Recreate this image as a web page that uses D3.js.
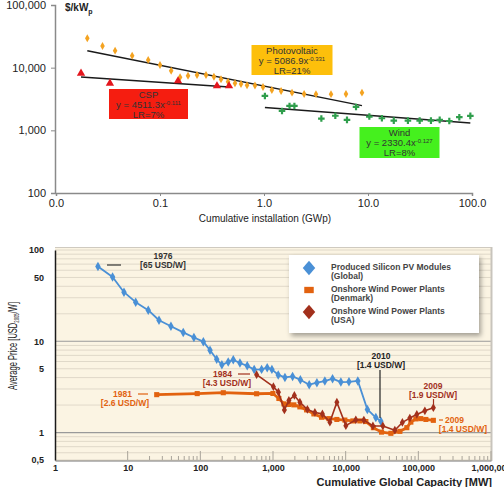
<!DOCTYPE html>
<html>
<head>
<meta charset="utf-8">
<script src="https://cdn.jsdelivr.net/npm/d3@7"></script>
<style>
body{margin:0;background:#fff}
svg{display:block;font-family:"Liberation Sans",Arial,sans-serif}
</style>
</head>
<body>
<svg id="chart" width="504" height="487"></svg>
<script>
// ---- top chart: cost vs cumulative installation (GWp, $/kWp)
var pvGW   = [0.020,0.028,0.037,0.054,0.077,0.100,0.128,0.156,0.186,0.227,0.277,0.330,0.386,0.451,0.526,0.601,0.687,0.819,0.978,1.19,1.46,1.86,2.43,3.16,4.41,6.14,8.75];
var pvCost = [29400,22200,18700,15500,13300,11000,8950,7030,7450,7650,7650,7180,6530,5980,5640,5500,5240,5200,4920,4410,4250,3990,3810,3780,3780,3810,3990];
var cspGW   = [0.0174,0.033,0.149,0.353,0.461];
var cspCost = [8140,5640,6140,5110,5110];
var windGW   = [1.02,1.49,1.76,1.96,3.56,4.85,6.28,7.67,10.3,13.6,17.7,24.2,31.4,40.3,48.9,60.5,75.5,96.4];
var windCost = [3540,2040,2450,2450,1540,1710,1470,2360,1660,1560,1430,1430,1430,1430,1470,1410,1620,1700];
// fitted trend lines, end points
var pvFit   = [[0.020,18600],[8.75,2480]];
var cspFit  = [[0.0174,7070],[0.461,4920]];
var windFit = [[1.02,2320],[96.4,1305]];
var topXTicks = [0.01,0.1,1,10,100];
var topXLabels = ["0.0","0.1","1.0","10.0","100.0"];
var topYTicks = [100,1000,10000,100000];
var topYLabels = ["100","1,000","10,000","100,000"];

// ---- bottom chart: average price vs cumulative global capacity (MW, USD2005/W)
var pvMW    = [3.9,6.2,8.9,12.9,19.2,27,39.4,58.2,81.6,110,136,168,198,242,284,351,442,551,697,832,966,1180,1460,1860,2380,3150,4020,5170,6600,8590,11100,14700,19900,26000,30500];
var pvPrice = [66,50.5,34.5,26.8,21.9,17.0,14.6,12.5,11.0,9.9,7.96,6.34,5.52,5.93,6.26,5.78,5.38,4.89,4.92,5.14,4.92,4.28,4.02,4.12,3.79,3.34,3.52,3.66,3.89,3.57,3.59,3.68,1.79,1.46,1.33];
var dkMW    = [25.1,90.6,207,595,997,1205,1413,1655,1938,2344,2898,3653,4659,5871,7566,9750,12560,15680,18960,24050,31180,41880,55700,69500,78900,92400,108000,127000,161000];
var dkPrice = [2.60,2.67,2.73,2.66,2.68,2.36,2.06,2.03,2.01,1.91,1.77,1.60,1.47,1.42,1.39,1.37,1.34,1.34,1.32,1.13,1.01,0.98,1.03,1.13,1.30,1.41,1.42,1.39,1.36];
var usMW    = [595,1013,1187,1435,1655,1969,2344,2972,3769,4783,6066,7566,10060,13800,17800,23700,32500,47500,60300,76400,95300,123000,161000];
var usPrice = [4.3,3.18,2.77,1.77,2.25,2.55,2.15,1.79,1.66,1.60,1.30,2.15,1.19,1.38,1.37,1.18,1.18,1.06,1.29,1.44,1.58,1.73,1.87];
var botXTicks = [1,10,100,1000,10000,100000,1000000];
var botXLabels = ["1","10","100","1,000","10,000","100,000","1,000,000"];
var botYTicks = [0.5,1,5,10,50,100];
var botYLabels = ["0,5","1","5","10","50","100"];
var legendNames = [["Produced Silicon PV Modules","(Global)"],["Onshore Wind Power Plants","(Denmark)"],["Onshore Wind Power Plants","(USA)"]];

var svg = d3.select("#chart");
var zip = function(a, b){ return a.map(function(v, i){ return [v, b[i]]; }); };

// ================= top chart =================
var x1 = d3.scaleLog().domain([0.01,100]).range([56,472]),
	y1 = d3.scaleLog().domain([100,100000]).range([193,5]);
var topG = svg.append("g");

var ax1 = topG.append("g").attr("transform","translate(0,193)")
	.call(d3.axisBottom(x1).tickValues(topXTicks).tickSize(3).tickFormat(function(d,i){ return topXLabels[i]; }));
var ay1 = topG.append("g").attr("transform","translate(55,0)")
	.call(d3.axisLeft(y1).tickValues(topYTicks).tickSize(4).tickFormat(function(d,i){ return topYLabels[i]; }));
[ax1, ay1].forEach(function(a){
	a.select(".domain").attr("stroke","#8a8a8a").attr("stroke-width",1.5);
	a.selectAll(".tick line").attr("stroke","#8a8a8a");
	a.selectAll("text").attr("fill","#222").style("font-size","11px").style("font-family","'Liberation Sans',Arial,sans-serif");
});
ax1.selectAll("text").attr("y",6).attr("dy","0.71em");
ay1.selectAll("text").attr("dx","-2");

topG.append("text").attr("x",65).attr("y",11).attr("fill","#222")
	.style("font-size","10px").style("font-weight","bold")
	.text("$/kW").append("tspan").attr("dy",3).style("font-size","7px").text("p");
topG.append("text").attr("x",265).attr("y",222).attr("text-anchor","middle").attr("fill","#222")
	.style("font-size","10px").text("Cumulative installation (GWp)");

var fitLine = d3.line().x(function(d){ return x1(d[0]); }).y(function(d){ return y1(d[1]); });
[pvFit, cspFit, windFit].forEach(function(f){
	topG.append("path").attr("d", fitLine(f)).attr("fill","none").attr("stroke","#1a1a1a").attr("stroke-width",1.5);
});

function topPoints(xs, ys, type, size, col){
	topG.append("g").selectAll("path").data(zip(xs, ys)).join("path")
		.attr("transform", function(d){ return "translate(" + x1(d[0]) + "," + y1(d[1]) + ")"; })
		.attr("d", d3.symbol().type(type).size(size))
		.attr("fill", col);
}
topPoints(pvGW, pvCost, d3.symbolDiamond, 18, "#f4a321");
topPoints(windGW, windCost, d3.symbolCross, 24, "#2f9e4c");
topPoints(cspGW, cspCost, d3.symbolTriangle, 30, "#e3161d");

function fitBox(cx, y0, w, h, col, name, eq, ex, lr){
	topG.append("rect").attr("x", cx - w/2).attr("y", y0).attr("width", w).attr("height", h).attr("fill", col);
	topG.append("text").attr("x", cx).attr("y", y0 + 9).attr("text-anchor","middle").attr("fill","#333").style("font-size","9.5px").text(name);
	var e = topG.append("text").attr("x", cx).attr("y", y0 + 19).attr("text-anchor","middle").attr("fill","#333").style("font-size","9.5px");
	e.append("tspan").text(eq);
	e.append("tspan").attr("dy",-3).style("font-size","6px").text(ex);
	topG.append("text").attr("x", cx).attr("y", y0 + 29).attr("text-anchor","middle").attr("fill","#333").style("font-size","9.5px").text(lr);
}
fitBox(292, 45, 81, 30, "#fdbf0b", "Photovoltaic", "y = 5086.9x", "-0.331", "LR=21%");
fitBox(148.5, 89, 79, 30, "#f51d10", "CSP", "y = 4511.3x", "-0.111", "LR=7%");
fitBox(399.5, 127, 80, 31, "#45f01e", "Wind", "y = 2330.4x", "-0.127", "LR=8%");

// ================= bottom chart =================
var x2 = d3.scaleLog().domain([1,1000000]).range([55,491]),
	y2 = d3.scaleLog().domain([0.5,100]).range([460,250]);
var bot = svg.append("g").style("font-family","'Liberation Sans',Arial,sans-serif");

var defs = svg.append("defs");
defs.append("filter").attr("id","shadow").attr("x","-10%").attr("y","-10%").attr("width","130%").attr("height","140%")
	.append("feDropShadow").attr("dx",2).attr("dy",3).attr("stdDeviation",2.5).attr("flood-color","#000").attr("flood-opacity",0.35);

bot.append("rect").attr("x",55).attr("y",247).attr("width",436).attr("height",214).attr("fill","#fbf4e3");
bot.append("g").selectAll("line").data(y2.ticks()).join("line")
	.attr("x1",55).attr("x2",491)
	.attr("y1", function(d){ return y2(d); }).attr("y2", function(d){ return y2(d); })
	.attr("stroke", function(d){ return (d === 1 || d === 10) ? "#9a9a9a" : "#d9d2c3"; })
	.attr("stroke-width", function(d){ return (d === 1 || d === 10) ? 1.2 : 0.8; });
bot.append("line").attr("x1",55).attr("x2",491).attr("y1",247.5).attr("y2",247.5).attr("stroke","#cfcac0");
bot.append("line").attr("x1",491.5).attr("x2",491.5).attr("y1",247).attr("y2",461).attr("stroke","#c8c4bc").attr("stroke-width",2);

// minor ticks along the bottom inside the plot
bot.append("g").selectAll("line").data(x2.ticks().filter(function(d){ return d >= 10; })).join("line")
	.attr("x1", function(d){ return x2(d); }).attr("x2", function(d){ return x2(d); })
	.attr("y1",460).attr("y2", function(d){ return Math.abs(Math.log10(d) % 1) < 1e-9 ? 451 : 456; })
	.attr("stroke","#a9a49a");

var ax2 = bot.append("g").attr("transform","translate(0,460.5)")
	.call(d3.axisBottom(x2).tickValues(botXTicks).tickSize(0).tickFormat(function(d,i){ return botXLabels[i]; }));
var ay2 = bot.append("g").attr("transform","translate(55,0)")
	.call(d3.axisLeft(y2).tickValues(botYTicks).tickSize(0).tickFormat(function(d,i){ return botYLabels[i]; }));
ax2.select(".domain").attr("stroke","#777");
ay2.select(".domain").attr("stroke","#1a1a1a").attr("stroke-width",1.5);
[ax2, ay2].forEach(function(a){
	a.selectAll("text").attr("fill","#222").style("font-size","9px").style("font-weight","bold").style("font-family","'Liberation Sans',Arial,sans-serif");
});
ax2.selectAll("text").attr("y",4).attr("dy","0.71em");
ay2.selectAll("text").attr("dx","-8");

bot.append("text").attr("x",492).attr("y",486).attr("text-anchor","end").attr("fill","#222")
	.style("font-size","11px").style("font-weight","bold").text("Cumulative Global Capacity [MW]");
var yt = bot.append("text").attr("transform","translate(17,390) rotate(-90)").attr("fill","#222").style("font-size","12.5px")
	.attr("textLength",88).attr("lengthAdjust","spacingAndGlyphs");
yt.append("tspan").text("Average Price [USD");
yt.append("tspan").attr("dy",2).style("font-size","7px").text("2005");
yt.append("tspan").attr("dy",-2).text("/W]");

var line2 = d3.line().x(function(d){ return x2(d[0]); }).y(function(d){ return y2(d[1]); });
function series(xs, ys, col, width, type, size){
	var g = bot.append("g");
	g.append("path").attr("d", line2(zip(xs, ys))).attr("fill","none").attr("stroke", col).attr("stroke-width", width).attr("stroke-linejoin","round");
	g.selectAll("path.m").data(zip(xs, ys)).join("path").attr("class","m")
		.attr("transform", function(d){ return "translate(" + x2(d[0]) + "," + y2(d[1]) + ")"; })
		.attr("d", d3.symbol().type(type).size(size)).attr("fill", col);
}
series(dkMW, dkPrice, "#e2620f", 2.8, d3.symbolSquare, 26);
series(pvMW, pvPrice, "#4a90d6", 1.8, d3.symbolDiamond, 26);
series(usMW, usPrice, "#a2301c", 1.6, d3.symbolDiamond, 22);

// annotations
function note(x, y, lines, col, anchor){
	lines.forEach(function(s, i){
		bot.append("text").attr("x", x).attr("y", y + i*9).attr("text-anchor", anchor || "middle").attr("fill", col)
			.style("font-size","8.5px").style("font-weight","bold").text(s);
	});
}
note(163, 259, ["1976","[65 USD/W]"], "#333");
bot.append("line").attr("x1",107).attr("x2",121).attr("y1",265).attr("y2",265).attr("stroke","#333").attr("stroke-width",1.2);
note(232, 377, ["1984"], "#a2301c", "end");
note(251, 386, ["[4.3 USD/W]"], "#a2301c", "end");
bot.append("line").attr("x1",238).attr("x2",250).attr("y1",374).attr("y2",374).attr("stroke","#a2301c").attr("stroke-width",1.2);
note(132, 397, ["1981"], "#e2620f", "end");
note(149, 406, ["[2.6 USD/W]"], "#e2620f", "end");
bot.append("line").attr("x1",138).attr("x2",148).attr("y1",394).attr("y2",394).attr("stroke","#e2620f").attr("stroke-width",1.2);
note(381, 359, ["2010","[1.4 USD/W]"], "#222");
bot.append("line").attr("x1",380).attr("x2",380).attr("y1",370).attr("y2",418).attr("stroke","#222").attr("stroke-width",1.2);
note(433, 389, ["2009","[1.9 USD/W]"], "#a2301c");
bot.append("line").attr("x1",433.5).attr("x2",433.5).attr("y1",399).attr("y2",405).attr("stroke","#a2301c").attr("stroke-width",1.2);
note(445, 423, ["2009"], "#e2620f", "start");
note(487, 432, ["[1.4 USD/W]"], "#e2620f", "end");
bot.append("line").attr("x1",439).attr("x2",443).attr("y1",420).attr("y2",420).attr("stroke","#e2620f").attr("stroke-width",1.2);

// legend
var lg = bot.append("g");
lg.append("rect").attr("x",289).attr("y",255).attr("width",190).attr("height",78).attr("fill","#fff").attr("filter","url(#shadow)");
var legendCols = ["#4a90d6","#e2620f","#a2301c"],
	legendSym = [d3.symbolDiamond, d3.symbolSquare, d3.symbolDiamond],
	legendSize = [60, 40, 60];
legendNames.forEach(function(n, i){
	var ly = 268 + i*22;
	lg.append("path").attr("transform","translate(309," + ly + ") scale(1.5,1)")
		.attr("d", d3.symbol().type(legendSym[i]).size(legendSize[i]))
		.attr("fill", legendCols[i]);
	lg.append("text").attr("x",331).attr("y", ly + 2).attr("fill","#444").style("font-size","8.5px").style("font-weight","bold").text(n[0]);
	lg.append("text").attr("x",331).attr("y", ly + 11).attr("fill","#444").style("font-size","8.5px").style("font-weight","bold").text(n[1]);
});
</script>
</body>
</html>
